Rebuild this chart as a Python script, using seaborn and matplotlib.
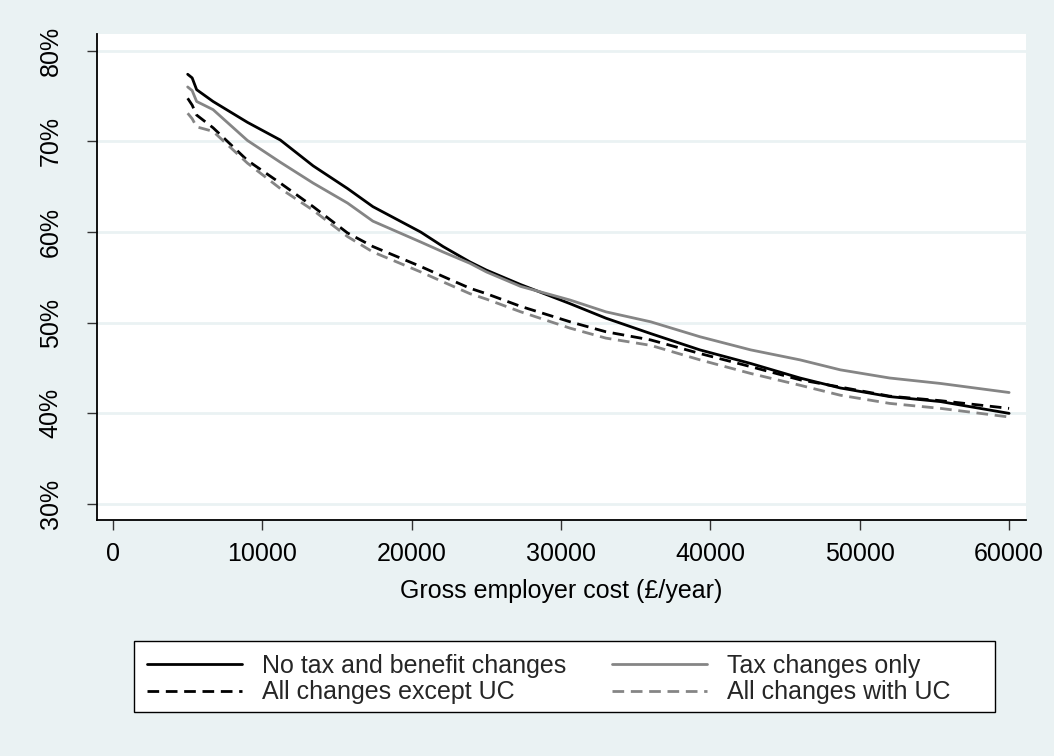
import matplotlib
matplotlib.use("Agg")
import matplotlib.pyplot as plt
import seaborn as sns
import pandas as pd
from matplotlib.patches import Rectangle
from matplotlib.ticker import FuncFormatter

# Data
employer_cost = [5000, 5300, 5600, 6700, 9000, 11200, 13400, 15700, 17400, 20600, 22100,
                 23900, 25000, 27300, 30600, 33000, 36000, 39300, 42700, 46000, 48700,
                 52000, 55400, 60000]
no_changes = [77.4, 77.0, 75.7, 74.4, 72.1, 70.15, 67.3, 64.8, 62.8, 60.0, 58.4, 56.7, 55.8,
              54.2, 52.1, 50.5, 48.8, 47.0, 45.5, 43.9, 42.8, 41.85, 41.3, 40.0]
tax_only = [76.0, 75.6, 74.4, 73.5, 70.1, 67.7, 65.4, 63.2, 61.2, 58.9, 57.8, 56.55, 55.6,
            54.0, 52.5, 51.2, 50.1, 48.45, 47.0, 45.9, 44.8, 43.9, 43.3, 42.3]
except_uc = [74.75, 74.0, 72.9, 71.5, 67.9, 65.4, 62.8, 59.9, 58.4, 56.2, 55.1, 53.8, 53.2,
             51.8, 50.1, 49.0, 48.1, 46.6, 45.15, 43.7, 42.9, 41.9, 41.4, 40.55]
with_uc = [73.1, 72.5, 71.6, 71.1, 67.6, 64.8, 62.4, 59.5, 57.8, 55.6, 54.5, 53.2, 52.6,
           51.2, 49.4, 48.3, 47.5, 45.9, 44.4, 43.1, 42.0, 41.1, 40.55, 39.6]

series_labels = ["No tax and benefit changes", "Tax changes only",
                 "All changes except UC", "All changes with UC"]
x_ticks = [0, 10000, 20000, 30000, 40000, 50000, 60000]
y_ticks = [30, 40, 50, 60, 70, 80]
x_title = "Gross employer cost (£/year)"

BG = "#EAF2F3"
GRAY = "#858585"

sns.set_theme(style="white")
plt.rcParams["font.family"] = ["Liberation Sans", "DejaVu Sans"]

W, H = 1054, 756
fig = plt.figure(figsize=(W / 100, H / 100), dpi=100, facecolor=BG)
ax = fig.add_axes([96.7 / W, 1 - 520 / H, (1026 - 96.7) / W, (520 - 34) / H])
ax.set_facecolor("white")

dash = (0, (4.2, 2.4))
styles = [
    (no_changes, "black", "-"),
    (tax_only, GRAY, "-"),
    (except_uc, "black", dash),
    (with_uc, GRAY, dash),
]
handles = []
for (vals, col, ls), lab in zip(styles, series_labels):
    df = pd.DataFrame({"x": employer_cost, "y": vals})
    sns.lineplot(data=df, x="x", y="y", ax=ax, color=col, linewidth=2.0,
                 linestyle=ls, label=lab, legend=False)
    handles.append(ax.lines[-1])

ax.set_xlim(-1091, 61130)
ax.set_ylim(28.24, 81.84)
ax.set_xticks(x_ticks)
ax.set_yticks(y_ticks)
ax.yaxis.set_major_formatter(FuncFormatter(lambda v, p: f"{int(v)}%"))
ax.grid(axis="y", color=BG, linewidth=2.0)
ax.grid(axis="x", visible=False)
ax.set_axisbelow(True)

for s in ["top", "right"]:
    ax.spines[s].set_visible(False)
for s in ["left", "bottom"]:
    ax.spines[s].set_color("black")
    ax.spines[s].set_linewidth(1.3)

ax.tick_params(axis="both", which="major", length=7.5, width=1.0, color="#333333",
               labelsize=18, labelcolor="black", left=True, bottom=True)
ax.tick_params(axis="x", pad=8)
ax.tick_params(axis="y", pad=17)
for lbl in ax.get_yticklabels():
    lbl.set_rotation(90)
    lbl.set_va("center")

ax.set_xlabel(x_title, fontsize=18, labelpad=10, color="black")
ax.set_ylabel("")

# legend box
box = Rectangle((134 / W, 1 - 712 / H), (995 - 134) / W, (712 - 641) / H,
                transform=fig.transFigure, facecolor="white", edgecolor="black",
                linewidth=1.0, zorder=1)
fig.patches.append(box)

# legend filled row by row (matplotlib fills columns first)
order = [0, 2, 1, 3]
leg = fig.legend(handles=[handles[i] for i in order],
                 labels=[series_labels[i] for i in order], ncol=2, loc="upper left",
                 bbox_to_anchor=(134 / W, 1 - 641 / H),
                 fontsize=18, frameon=False,
                 handlelength=3.8, handletextpad=0.8, labelspacing=0.12,
                 columnspacing=1.85, borderpad=0.5, borderaxespad=0)
leg.set_zorder(2)

fig.savefig("out.png", dpi=100, facecolor=BG)
